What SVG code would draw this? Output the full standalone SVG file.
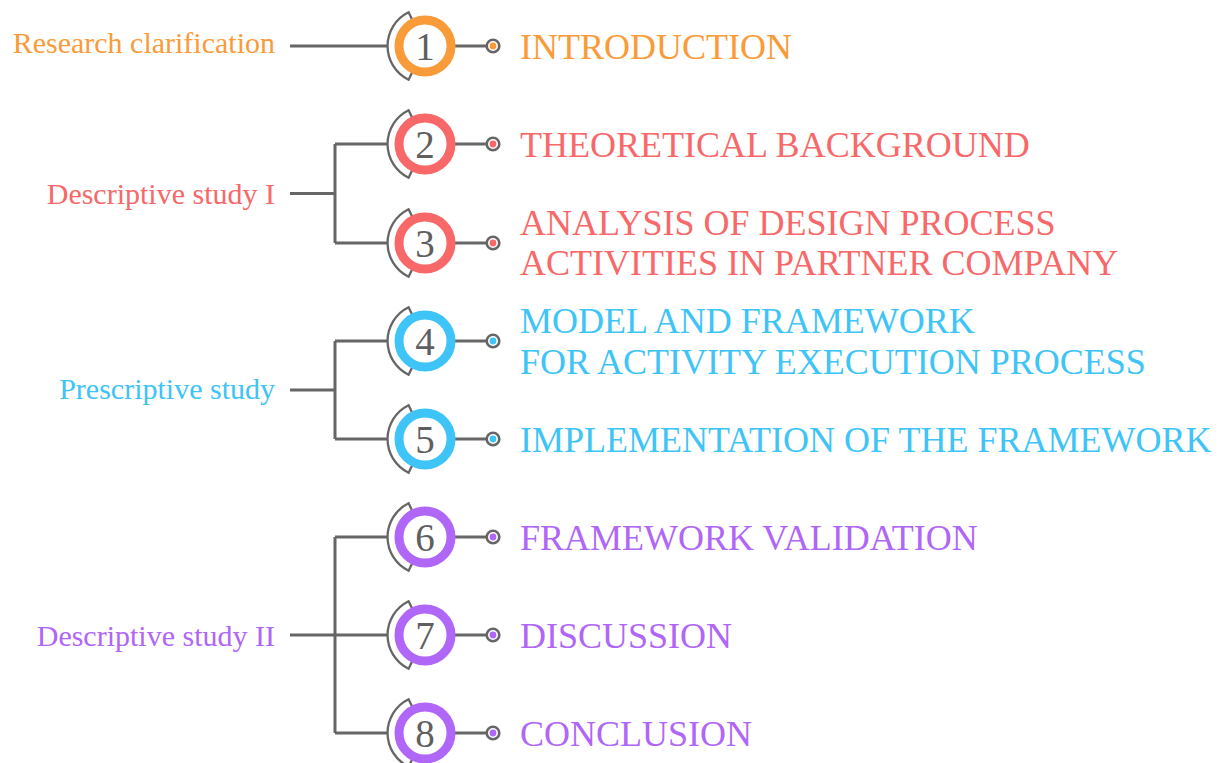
<svg xmlns="http://www.w3.org/2000/svg" xmlns:xlink="http://www.w3.org/1999/xlink" width="1224" height="763" viewBox="0 0 1224 763">
<style>
.conn{stroke:#666;stroke-width:3;fill:none;stroke-linecap:butt}
.arc{fill:#fff;stroke:#666;stroke-width:2.3;stroke-linejoin:miter}
.ring{fill:#fff;stroke-width:9}
.num{font-family:"Liberation Serif","Times New Roman",serif;font-size:39px;fill:#5f5f5f;text-anchor:middle}
.stub{stroke:#666;stroke-width:3}
.dot{fill:#fff;stroke:#666;stroke-width:2.6}
.title{font-family:"Liberation Serif","Times New Roman",serif;font-size:36px}
.lab{font-family:"Liberation Serif","Times New Roman",serif;font-size:30px;text-anchor:end}
.o{fill:#FA9B3A;stroke:#FA9B3A}
.r{fill:#F86868;stroke:#F86868}
.b{fill:#3EC4F7;stroke:#3EC4F7}
.p{fill:#B066F7;stroke:#B066F7}
text.o,text.r,text.b,text.p,circle.fillc{stroke:none}
circle.ring{fill:#fff}
</style>
<defs>
<path id="arc" class="arc" d="M -16.4 -33.7 A 37.5 37.5 0 0 0 -16.4 33.7 L -12.3 25.3 A 28.1 28.1 0 0 1 -12.3 -25.3 Z"/>
</defs>
<g id="connectors">
<line class="conn" x1="290" y1="46" x2="389" y2="46"/>
<path class="conn" d="M290 193.5 H335 M335 144 V243 M335 144 H389 M335 243 H389"/>
<path class="conn" d="M290 390 H335 M335 341 V439 M335 341 H389 M335 439 H389"/>
<path class="conn" d="M290 635 H389 M335 537 V733 M335 537 H389 M335 733 H389"/>
</g>
<g id="labels">
<text id="lab-research" class="lab o" x="275" y="53">Research clarification</text>
<text id="lab-desc1" class="lab r" x="275" y="203.5">Descriptive study I</text>
<text id="lab-presc" class="lab b" x="275" y="399">Prescriptive study</text>
<text id="lab-desc2" class="lab p" x="275" y="645.5">Descriptive study II</text>
</g>
<g id="node1" transform="translate(425,46)">
<use href="#arc" xlink:href="#arc"/>
<line class="stub" x1="30" y1="0" x2="62" y2="0"/>
<circle class="ring o" r="26"/>
<text class="num" y="13.5">1</text>
<circle class="dot" cx="68" r="6.3"/>
<circle class="o fillc" cx="68" r="3.4"/>
<text class="title o" x="95" y="13">INTRODUCTION</text>
</g>
<g id="node2" transform="translate(425,144)">
<use href="#arc" xlink:href="#arc"/>
<line class="stub" x1="30" y1="0" x2="62" y2="0"/>
<circle class="ring r" r="26"/>
<text class="num" y="13.5">2</text>
<circle class="dot" cx="68" r="6.3"/>
<circle class="r fillc" cx="68" r="3.4"/>
<text class="title r" x="95" y="13">THEORETICAL BACKGROUND</text>
</g>
<g id="node3" transform="translate(425,243)">
<use href="#arc" xlink:href="#arc"/>
<line class="stub" x1="30" y1="0" x2="62" y2="0"/>
<circle class="ring r" r="26"/>
<text class="num" y="13.5">3</text>
<circle class="dot" cx="68" r="6.3"/>
<circle class="r fillc" cx="68" r="3.4"/>
<text class="title r" x="95" y="-8">ANALYSIS OF DESIGN PROCESS</text>
<text class="title r" x="95" y="32">ACTIVITIES IN PARTNER COMPANY</text>
</g>
<g id="node4" transform="translate(425,341)">
<use href="#arc" xlink:href="#arc"/>
<line class="stub" x1="30" y1="0" x2="62" y2="0"/>
<circle class="ring b" r="26"/>
<text class="num" y="13.5">4</text>
<circle class="dot" cx="68" r="6.3"/>
<circle class="b fillc" cx="68" r="3.4"/>
<text class="title b" x="95" y="-8.5">MODEL AND FRAMEWORK</text>
<text class="title b" x="95" y="32.5">FOR ACTIVITY EXECUTION PROCESS</text>
</g>
<g id="node5" transform="translate(425,439)">
<use href="#arc" xlink:href="#arc"/>
<line class="stub" x1="30" y1="0" x2="62" y2="0"/>
<circle class="ring b" r="26"/>
<text class="num" y="13.5">5</text>
<circle class="dot" cx="68" r="6.3"/>
<circle class="b fillc" cx="68" r="3.4"/>
<text class="title b" x="95" y="13">IMPLEMENTATION OF THE FRAMEWORK</text>
</g>
<g id="node6" transform="translate(425,537)">
<use href="#arc" xlink:href="#arc"/>
<line class="stub" x1="30" y1="0" x2="62" y2="0"/>
<circle class="ring p" r="26"/>
<text class="num" y="13.5">6</text>
<circle class="dot" cx="68" r="6.3"/>
<circle class="p fillc" cx="68" r="3.4"/>
<text class="title p" x="95" y="13">FRAMEWORK VALIDATION</text>
</g>
<g id="node7" transform="translate(425,635)">
<use href="#arc" xlink:href="#arc"/>
<line class="stub" x1="30" y1="0" x2="62" y2="0"/>
<circle class="ring p" r="26"/>
<text class="num" y="13.5">7</text>
<circle class="dot" cx="68" r="6.3"/>
<circle class="p fillc" cx="68" r="3.4"/>
<text class="title p" x="95" y="13">DISCUSSION</text>
</g>
<g id="node8" transform="translate(425,733)">
<use href="#arc" xlink:href="#arc"/>
<line class="stub" x1="30" y1="0" x2="62" y2="0"/>
<circle class="ring p" r="26"/>
<text class="num" y="13.5">8</text>
<circle class="dot" cx="68" r="6.3"/>
<circle class="p fillc" cx="68" r="3.4"/>
<text class="title p" x="95" y="13">CONCLUSION</text>
</g>
</svg>
